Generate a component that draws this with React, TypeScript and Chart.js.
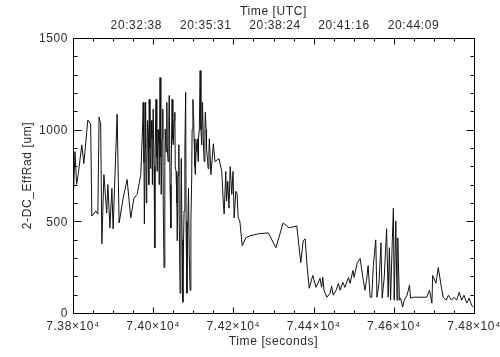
import { useEffect, useRef } from "react";
import { Chart, registerables } from "chart.js";

Chart.register(...registerables);

// ---- data ----
const timeSeconds = [
  73801, 73805, 73809, 73813, 73822, 73827, 73837, 73844, 73847, 73857, 73862, 73865, 73869, 73872, 73877,
  73884, 73887, 73892, 73897, 73900, 73910, 73915, 73925, 73935, 73944, 73952, 73960, 73969, 73974,
  73975, 73977, 73978, 73980, 73981, 73983, 73984, 73986, 73988, 73989, 73990, 73992, 73994, 73995, 73997,
  73998, 74000, 74002, 74004, 74005, 74007, 74009, 74010, 74012, 74014, 74015, 74017, 74019, 74020, 74022,
  74024, 74025, 74027, 74029, 74030, 74032, 74034, 74035, 74037, 74039, 74040, 74042, 74044, 74045, 74047,
  74049, 74050, 74052, 74054, 74055, 74057, 74059, 74060, 74062, 74064, 74065, 74067, 74069, 74070, 74072,
  74074, 74075, 74077, 74079, 74081, 74082, 74084, 74086, 74088, 74090, 74092, 74094, 74096, 74097, 74099,
  74101, 74102, 74104, 74105, 74107, 74108, 74110, 74112, 74113, 74115, 74117, 74119, 74121, 74123, 74125,
  74127, 74129, 74130, 74132, 74133, 74135, 74137, 74139, 74140,
  74144, 74150, 74154, 74164, 74171, 74175, 74177, 74181, 74183, 74186, 74189, 74192, 74196, 74199, 74202,
  74206, 74209, 74212, 74216, 74222, 74231, 74241, 74262, 74287, 74306, 74324, 74339, 74358, 74368, 74374,
  74379, 74383, 74389, 74398, 74406, 74416, 74420, 74423, 74426, 74433, 74441, 74445, 74449, 74456, 74462,
  74466, 74473, 74478, 74487, 74491, 74498, 74501, 74509, 74516, 74524, 74528, 74532, 74536, 74541, 74545,
  74549, 74555, 74558, 74563, 74568, 74571, 74576, 74582, 74586, 74589, 74592, 74596, 74599, 74601, 74605,
  74608, 74610, 74614, 74617, 74622, 74626, 74633, 74639, 74642, 74648, 74682, 74689, 74695, 74697, 74705,
  74711, 74717, 74723, 74731, 74736, 74744, 74750, 74757, 74763, 74769, 74775, 74782, 74788, 74794, 74798,
];

const effRad = [
  647, 880, 701, 755, 917, 815, 1052, 1031, 529, 556, 540, 1068, 1031, 378, 755,
  545, 701, 464, 680, 459, 1085, 491, 626, 728, 518, 626, 647, 755, 1041,
  1149, 820, 486, 900, 1149, 600, 734, 1050, 971, 700, 1165, 900, 788, 1050, 950,
  700, 1112, 800, 356, 900, 1165, 850, 772, 1000, 933, 700, 1284, 850, 647, 950,
  1112, 600, 248, 800, 1004, 880, 1149, 900, 826, 1050, 1187, 700, 464, 800, 1165,
  950, 917, 1050, 1095, 800, 772, 600, 394, 750, 917, 500, 108, 600, 842, 400,
  59, 300, 556, 900, 1203, 500, 108, 450, 680, 300, 124, 500, 734, 1000, 1165,
  1050, 950, 800, 755, 880, 917, 950, 826, 950, 1004, 1322, 1000, 917, 1149, 950,
  826, 1000, 1095, 1000, 896, 850, 788, 880, 950,
  755, 923, 826, 842, 772, 594, 540, 772, 610, 718, 572, 799, 647, 772, 518,
  664, 653, 518, 502, 367, 410, 421, 432, 437, 356, 491, 464, 475, 275, 394,
  405, 275, 135, 205, 140, 189, 140, 194, 124, 86, 108, 146, 97, 124, 162,
  124, 167, 140, 194, 162, 232, 194, 275, 297, 178, 124, 178, 259, 86, 86,
  259, 399, 86, 162, 383, 81, 189, 459, 86, 356, 70, 378, 572, 70, 502,
  70, 410, 70, 81, 32, 70, 97, 151, 81, 86, 86, 124, 54, 205, 162,
  248, 162, 86, 70, 97, 70, 86, 70, 113, 70, 97, 54, 81, 43, 32,
];

// ---- axes ----
const xMin = 73800;
const xMax = 74800;
const xMajorStep = 200;
const xMinorStep = 50;
const xTickValues = [73800, 74000, 74200, 74400, 74600, 74800];
const xTickLabels = ["7.38×10⁴", "7.40×10⁴", "7.42×10⁴", "7.44×10⁴", "7.46×10⁴", "7.48×10⁴"];
const yMin = 0;
const yMax = 1500;
const yMajorStep = 500;
const yMinorStep = 100;
const yTickValues = [0, 500, 1000, 1500];
const yTickLabels = ["0", "500", "1000", "1500"];
const utcTickLabels = ["20:32:38", "20:35:31", "20:38:24", "20:41:16", "20:44:09"];

const xTitle = "Time [seconds]";
const topTitle = "Time [UTC]";
const yTitle = "2-DC_EffRad [um]";

const FONT = "12px 'Liberation Sans', Arial, 'DejaVu Sans', sans-serif";
const TEXT = "#2a2a2a";

const utcToSeconds = (s: string) => {
  const [h, m, sec] = s.split(":").map(Number);
  return h * 3600 + m * 60 + sec;
};

const idlAxes = {
  id: "idlAxes",
  afterDraw(chart: any) {
    const { ctx, chartArea } = chart;
    const { left, right, top, bottom } = chartArea;
    const xs = chart.scales.x;
    const ys = chart.scales.y;
    ctx.save();
    ctx.strokeStyle = "#000";
    ctx.lineWidth = 1;
    const L = Math.round(left) + 0.5;
    const R = Math.round(right) + 0.5;
    const T = Math.round(top) + 0.5;
    const B = Math.round(bottom) + 0.5;
    ctx.beginPath();
    ctx.rect(L, T, R - L, B - T);
    ctx.stroke();

    ctx.beginPath();
    for (let v = xMin; v <= xMax; v += xMinorStep) {
      const px = Math.round(xs.getPixelForValue(v)) + 0.5;
      const len = (v - xMin) % xMajorStep === 0 ? 6 : 3;
      ctx.moveTo(px, B);
      ctx.lineTo(px, B - len);
      ctx.moveTo(px, T);
      ctx.lineTo(px, T + len);
    }
    for (let v = yMin; v <= yMax; v += yMinorStep) {
      const py = Math.round(ys.getPixelForValue(v)) + 0.5;
      const len = v % yMajorStep === 0 ? 8 : 4;
      ctx.moveTo(L, py);
      ctx.lineTo(L + len, py);
      ctx.moveTo(R, py);
      ctx.lineTo(R - len, py);
    }
    ctx.stroke();

    ctx.fillStyle = TEXT;
    ctx.font = FONT;
    try { (ctx as any).letterSpacing = "0.6px"; } catch (e) {}
    ctx.textBaseline = "middle";
    ctx.textAlign = "center";
    xTickValues.forEach((v, i) => {
      ctx.fillText(xTickLabels[i], xs.getPixelForValue(v), bottom + 14);
    });
    ctx.fillText(xTitle, (left + right) / 2, bottom + 29);
    utcTickLabels.forEach((lab) => {
      ctx.fillText(lab, xs.getPixelForValue(utcToSeconds(lab)), top - 12);
    });
    ctx.fillText(topTitle, (left + right) / 2, top - 26);

    ctx.textAlign = "right";
    yTickValues.forEach((v, i) => {
      ctx.fillText(yTickLabels[i], left - 5, ys.getPixelForValue(v) + 1);
    });

    ctx.save();
    ctx.translate(28, (top + bottom) / 2);
    ctx.rotate(-Math.PI / 2);
    ctx.textAlign = "center";
    ctx.fillText(yTitle, 0, 0);
    ctx.restore();

    ctx.restore();
  },
};

export default function App() {
  const ref = useRef<HTMLCanvasElement | null>(null);
  useEffect(() => {
    if (!ref.current) return;
    const chart = new Chart(ref.current, {
      type: "line",
      data: {
        datasets: [
          {
            data: timeSeconds.map((t, i) => ({ x: t, y: effRad[i] })),
            borderColor: "#111",
            borderWidth: 1,
            pointRadius: 0,
            tension: 0,
            fill: false,
          },
        ],
      },
      options: {
        animation: false,
        responsive: false,
        devicePixelRatio: 1,
        layout: { padding: { left: 73, right: 26, top: 38, bottom: 44 } },
        plugins: { legend: { display: false }, tooltip: { enabled: false } },
        scales: {
          x: { type: "linear", min: xMin, max: xMax, display: false },
          y: { type: "linear", min: yMin, max: yMax, display: false },
        },
      },
      plugins: [idlAxes],
    });
    return () => chart.destroy();
  }, []);
  return (
    <div style={{ position: "absolute", left: 0, top: 0, width: 500, height: 357, background: "#fff" }}>
      <canvas ref={ref} width={500} height={357} style={{ display: "block" }} />
    </div>
  );
}
